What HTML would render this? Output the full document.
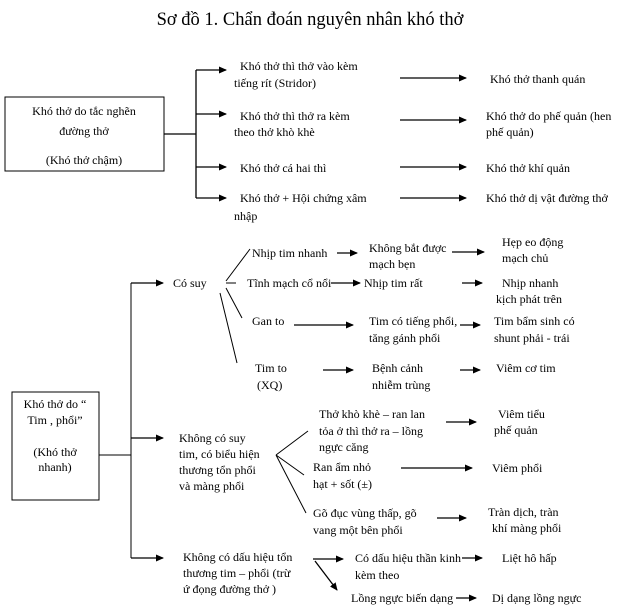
<!DOCTYPE html>
<html><head><meta charset="utf-8"><style>
html,body{margin:0;padding:0;background:#fff;}
svg{display:block;}
text{font-family:"Liberation Serif","DejaVu Serif",serif;font-size:12px;fill:#000;dominant-baseline:central;}
</style></head><body>
<svg width="620" height="614" viewBox="0 0 620 614" xmlns="http://www.w3.org/2000/svg">
<defs><marker id="a" markerWidth="8" markerHeight="8" refX="7" refY="4" orient="auto" markerUnits="userSpaceOnUse"><path d="M0,0.5 L8,4 L0,7.5 Z" fill="#000"/></marker></defs>
<text x="310" y="20" text-anchor="middle" style="font-size:18.5px">Sơ đồ 1. Chẩn đoán nguyên nhân khó thở</text>
<g stroke="#000" stroke-width="1.3" fill="none">
<rect x="5" y="97" width="159" height="74" stroke-width="1"/>
<path d="M164 134 H196 M196 70 V198"/>
<path d="M196 70 H226" marker-end="url(#a)"/>
<path d="M196 114 H226" marker-end="url(#a)"/>
<path d="M196 167 H226" marker-end="url(#a)"/>
<path d="M196 198 H226" marker-end="url(#a)"/>
<path d="M400 78 H466" marker-end="url(#a)"/>
<path d="M400 120 H466" marker-end="url(#a)"/>
<path d="M400 167 H466" marker-end="url(#a)"/>
<path d="M400 198 H466" marker-end="url(#a)"/>
<rect x="12" y="392" width="87" height="108" stroke-width="1"/>
<path d="M99 455 H131 M131 283 V558" stroke-width="1"/>
<path d="M131 283 H163" marker-end="url(#a)"/>
<path d="M131 438 H163" marker-end="url(#a)"/>
<path d="M131 558 H163" marker-end="url(#a)"/>
<path d="M226 281 L250 249 M226 283 H236 M226 288 L242 318 M220 293 L237 363" stroke-width="1"/>
<path d="M337 253 H357" marker-end="url(#a)"/>
<path d="M452 252 H484" marker-end="url(#a)"/>
<path d="M331 283 H360" marker-end="url(#a)"/>
<path d="M462 283 H482" marker-end="url(#a)"/>
<path d="M294 325 H353" marker-end="url(#a)"/>
<path d="M460 325 H480" marker-end="url(#a)"/>
<path d="M323 370 H353" marker-end="url(#a)"/>
<path d="M460 370 H480" marker-end="url(#a)"/>
<path d="M276 455 L308 431 M276 455 L304 475 M276 455 L306 513" stroke-width="1"/>
<path d="M446 422 H476" marker-end="url(#a)"/>
<path d="M401 468 H472" marker-end="url(#a)"/>
<path d="M437 518 H466" marker-end="url(#a)"/>
<path d="M313 559 H343" marker-end="url(#a)"/>
<path d="M315 561 L337 590" marker-end="url(#a)"/>
<path d="M462 558 H482" marker-end="url(#a)"/>
<path d="M456 598 H476" marker-end="url(#a)"/>
</g>
<g text-anchor="middle">
<text x="84" y="111">Khó thở do tắc nghẽn</text>
<text x="84" y="131">đường thở</text>
<text x="84" y="160">(Khó thở chậm)</text>
<text x="55" y="404">Khó thở do “</text>
<text x="55" y="420">Tim , phổi”</text>
<text x="55" y="452">(Khó thở</text>
<text x="55" y="467">nhanh)</text>
</g>
<text x="240" y="66">Khó thở thì thở vào kèm</text>
<text x="234" y="83">tiếng rít (Stridor)</text>
<text x="240" y="116">Khó thở thì thở ra kèm</text>
<text x="234" y="132">theo thở khò khè</text>
<text x="240" y="168">Khó thở cá hai thì</text>
<text x="240" y="198">Khó thở + Hội chứng xâm</text>
<text x="234" y="216">nhập</text>
<text x="490" y="79">Khó thở thanh quán</text>
<text x="486" y="116">Khó thở do phế quản (hen</text>
<text x="486" y="132">phế quản)</text>
<text x="486" y="168">Khó thở khí quản</text>
<text x="486" y="198">Khó thở dị vật đường thở</text>
<text x="173" y="283">Có suy</text>
<text x="252" y="253">Nhịp tim nhanh</text>
<text x="369" y="248">Không bắt được</text>
<text x="369" y="264">mạch bẹn</text>
<text x="502" y="242">Hẹp eo động</text>
<text x="502" y="258">mạch chủ</text>
<text x="247" y="283">Tĩnh mạch cổ nổi</text>
<text x="364" y="283">Nhịp tim rất</text>
<text x="502" y="283">Nhịp nhanh</text>
<text x="496" y="299">kịch phát trên</text>
<text x="252" y="321">Gan to</text>
<text x="369" y="321">Tim có tiếng phổi,</text>
<text x="369" y="338">tăng gánh phổi</text>
<text x="494" y="321">Tim bẩm sinh có</text>
<text x="494" y="338">shunt phải - trái</text>
<text x="255" y="368">Tim to</text>
<text x="257" y="385">(XQ)</text>
<text x="372" y="368">Bệnh cảnh</text>
<text x="372" y="385">nhiễm trùng</text>
<text x="496" y="368">Viêm cơ tim</text>
<text x="179" y="438">Không có suy</text>
<text x="179" y="454">tim, có biểu hiện</text>
<text x="179" y="470">thương tổn phổi</text>
<text x="179" y="486">và màng phổi</text>
<text x="319" y="414">Thở khò khè – ran lan</text>
<text x="319" y="431">tỏa ở thì thở ra – lồng</text>
<text x="319" y="447">ngực căng</text>
<text x="498" y="414">Viêm tiểu</text>
<text x="494" y="430">phế quản</text>
<text x="313" y="467">Ran ẩm nhỏ</text>
<text x="313" y="484">hạt + sốt (±)</text>
<text x="492" y="468">Viêm phổi</text>
<text x="313" y="513">Gõ đục vùng thấp, gõ</text>
<text x="313" y="530">vang một bên phổi</text>
<text x="488" y="512">Tràn dịch, tràn</text>
<text x="492" y="528">khí màng phổi</text>
<text x="183" y="557">Không có dấu hiệu tổn</text>
<text x="183" y="573">thương tim – phổi (trừ</text>
<text x="183" y="589">ứ đọng đường thở )</text>
<text x="355" y="558">Có dấu hiệu thần kinh</text>
<text x="355" y="575">kèm theo</text>
<text x="502" y="558">Liệt hô hấp</text>
<text x="351" y="598">Lồng ngực biến dạng</text>
<text x="492" y="598">Dị dạng lồng ngực</text>
</svg>
</body></html>
